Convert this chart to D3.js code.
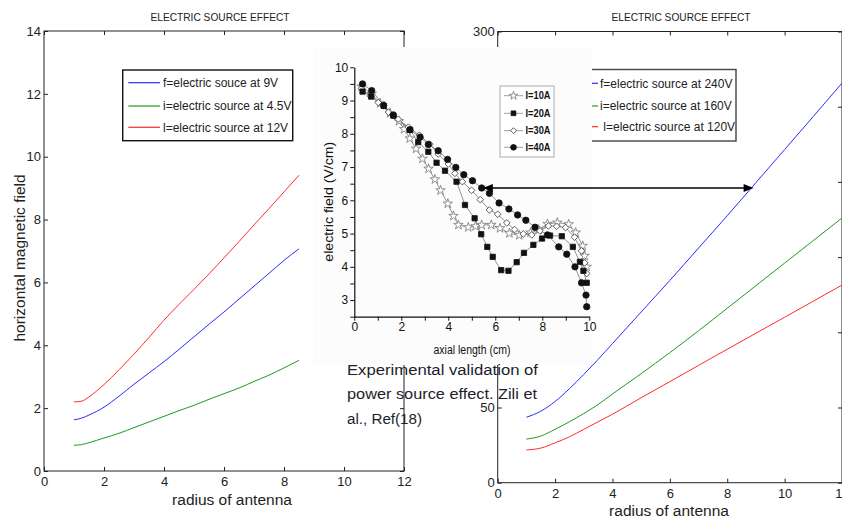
<!DOCTYPE html>
<html><head><meta charset="utf-8">
<script src="https://cdn.jsdelivr.net/npm/d3@7"></script>
<style>
body{margin:0;background:#fff}
svg{display:block}
text{font-family:"Liberation Sans",Arial,sans-serif}
</style>
</head><body>
<svg id="c" width="842" height="518"></svg>
<script>
// ---------- DATA ----------
// Left chart: horizontal magnetic field vs radius of antenna
const leftRadius = [1,1.25,1.5,2,2.5,3,3.5,4,4.5,5,5.5,6,6.5,7,7.5,8,8.5];
const left9V   = [1.63,1.68,1.78,2.03,2.38,2.76,3.12,3.48,3.87,4.27,4.67,5.06,5.47,5.88,6.29,6.7,7.07];
const left45V  = [0.82,0.84,0.9,1.05,1.2,1.38,1.56,1.74,1.92,2.09,2.28,2.46,2.64,2.85,3.05,3.28,3.52];
const left12V  = [2.2,2.22,2.36,2.75,3.22,3.72,4.25,4.8,5.3,5.78,6.27,6.78,7.3,7.83,8.35,8.88,9.41];
const leftXTicks = [0,2,4,6,8,10,12];
const leftYTicks = [0,2,4,6,8,10,12,14];
const leftLegend = ["f=electric souce at 9V","i=electric source at 4.5V","l=electric source at 12V"];

// Right chart
const rightRadius = [1,1.5,2,2.5,3,3.5,4,5,6,7,8,9,10,11,12];
const right240V = [43.5,47.5,54,62.5,72,82,92.5,113.5,134.5,156,177.5,199.5,221.5,243.5,265.7];
const right160V = [29,31,35.5,40.5,46,52,59,72.5,86.5,101,116,131,146,161,176];
const right120V = [21.8,23,26.5,30.5,35.5,40.5,45.5,56.5,67.2,78,88.7,99.4,110,120.7,131.4];
const rightXTicks = [0,2,4,6,8,10,12];
const rightYTicks = [0,50,100,150,200,250,300];
const rightYLabelsShown = [0,50,300]; // others are hidden behind the inset
const rightLegend = ["f=electric source at 240V","i=electric source at 160V"," l=electric source at 120V"];

// Inset: electric field (V/cm) vs axial length (cm)
const i10A = [[0.31,9.42],[0.74,9.2],[1.1,8.92],[1.52,8.62],[1.9,8.38],[2.12,8.14],[2.36,7.86],[2.63,7.55],[2.9,7.25],[3.16,6.95],[3.43,6.63],[3.67,6.3],[3.98,5.9],[4.22,5.53],[4.43,5.26],[4.85,5.19],[5.16,5.22],[5.42,5.26],[5.83,5.26],[6.2,5.16],[6.6,5.01],[7.02,4.95],[7.5,5.03],[7.85,5.12],[8.22,5.29],[8.64,5.33],[9.12,5.28],[9.42,5.03],[9.72,4.63],[9.8,4.33],[9.89,4.0]];
const i20A = [[0.35,9.27],[0.72,9.12],[1.25,8.84],[1.66,8.55],[2.37,8.12],[2.72,7.75],[3.15,7.46],[3.5,7.13],[3.86,6.89],[4.35,6.56],[4.71,5.86],[5.12,5.46],[5.4,4.98],[5.66,4.6],[5.89,4.3],[6.25,3.9],[6.56,3.88],[6.91,4.14],[7.22,4.42],[7.62,4.66],[7.99,4.85],[8.33,4.94],[8.83,4.92],[9.3,4.6],[9.6,4.15],[9.75,3.88],[9.89,3.52]];
const i30A = [[0.31,9.37],[0.67,9.14],[1.02,8.94],[1.45,8.65],[1.87,8.44],[2.3,8.2],[2.77,7.96],[3.22,7.69],[3.57,7.39],[4.0,7.09],[4.28,6.81],[4.6,6.56],[4.99,6.3],[5.36,6.02],[5.75,5.71],[6.1,5.58],[6.49,5.32],[6.82,5.12],[7.19,4.99],[7.55,4.96],[7.9,5.08],[8.26,5.23],[8.61,5.22],[8.99,5.18],[9.37,4.89],[9.67,4.48],[9.8,4.12],[9.89,3.8]];
const i40A = [[0.35,9.5],[0.74,9.3],[1.25,8.85],[1.66,8.56],[2.37,8.12],[2.8,7.9],[3.15,7.68],[3.57,7.49],[3.97,7.23],[4.32,6.99],[4.66,6.77],[5.03,6.59],[5.42,6.37],[5.75,6.21],[6.16,5.92],[6.58,5.74],[6.95,5.56],[7.3,5.4],[7.69,5.19],[8.22,4.96],[8.7,4.6],[9.04,4.38],[9.39,4.0],[9.67,3.52],[9.86,3.15],[9.89,2.8]];
const insetXTicks = [0,1,2,3,4,5,6,7,8,9,10];
const insetXLabels = [0,2,4,6,8,10];
const insetYTicks = [2.5,3,3.5,4,4.5,5,5.5,6,6.5,7,7.5,8,8.5,9,9.5,10];
const insetYLabels = [3,4,5,6,7,8,9,10];
const insetLegend = ["I=10A","I=20A","I=30A","I=40A"];

// arrow annotation: from inset point (axial length, field) to right chart radius
const arrowInset = [5.47, 6.37];
const arrowRightX = 8.92;

const captionLines = ["Experimental validation of","power source effect. Zili et","al., Ref(18)"];

// ---------- DRAW ----------
const svg = d3.select("#c");
const FONT = '"Liberation Sans",Arial,sans-serif';

function boxAxes(g, x, y, xt, yt, fs, pad, yShown) {
  const [x0,x1] = x.range(), [y0,y1] = y.range();
  const st = a => a.attr("font-size", fs).attr("font-family", FONT)
    .call(s => s.select(".domain").remove())
    .call(s => s.selectAll("line").attr("stroke","#222"))
    .call(s => s.selectAll("text").attr("fill","#222"));
  g.append("g").attr("transform",`translate(0,${y0})`)
    .call(d3.axisBottom(x).tickValues(xt).tickSizeInner(-4).tickSizeOuter(0).tickPadding(pad.x)).call(st);
  g.append("g").attr("transform",`translate(0,${y1})`)
    .call(d3.axisTop(x).tickValues(xt).tickSizeInner(-4).tickSizeOuter(0).tickFormat(()=>"")).call(st);
  g.append("g").attr("transform",`translate(${x0},0)`)
    .call(d3.axisLeft(y).tickValues(yt).tickSizeInner(-4).tickSizeOuter(0).tickPadding(pad.y)
      .tickFormat(d => (!yShown || yShown.includes(d)) ? d : "")).call(st);
  g.append("g").attr("transform",`translate(${x1},0)`)
    .call(d3.axisRight(y).tickValues(yt).tickSizeInner(-4).tickSizeOuter(0).tickFormat(()=>"")).call(st);
  g.append("rect").attr("x",x0).attr("y",y1).attr("width",x1-x0).attr("height",y0-y1)
    .attr("fill","none").attr("stroke","#222").attr("stroke-width",1);
}

// ---- Left chart ----
const xL = d3.scaleLinear().domain([0,12]).range([44,404]);
const yL = d3.scaleLinear().domain([0,14]).range([471,31]);
const gL = svg.append("g");
boxAxes(gL, xL, yL, leftXTicks, leftYTicks, 13, {x:6, y:3});
const lineL = d3.line().curve(d3.curveMonotoneX).x((d,i)=>xL(leftRadius[i])).y(d=>yL(d));
[[left9V,"#2b2bff"],[left45V,"#1e9a1e"],[left12V,"#ff2b2b"]].forEach(([s,c])=>{
  gL.append("path").attr("d",lineL(s)).attr("fill","none").attr("stroke",c).attr("stroke-width",1);
});
gL.append("text").attr("x",220).attr("y",21).attr("text-anchor","middle").attr("font-size",10.5)
  .attr("fill","#222").attr("textLength",139).attr("lengthAdjust","spacingAndGlyphs").text("ELECTRIC SOURCE EFFECT");
gL.append("text").attr("x",232).attr("y",505).attr("text-anchor","middle").attr("font-size",15.5)
  .attr("fill","#222").text("radius of antenna");
gL.append("text").attr("transform","translate(25,258) rotate(-90)").attr("text-anchor","middle")
  .attr("font-size",15.5).attr("fill","#222").text("horizontal magnetic field");
// legend
const lgL = gL.append("g");
lgL.append("rect").attr("x",122.7).attr("y",70).attr("width",170).attr("height",70.7)
  .attr("fill","#fff").attr("stroke","#111").attr("stroke-width",1.4);
const legColorsL = ["#2b2bff","#1e9a1e","#ff2b2b"];
const legRowsL = [82.7,106,127.3];
leftLegend.forEach((t,i)=>{
  lgL.append("line").attr("x1",128.3).attr("x2",160).attr("y1",legRowsL[i]).attr("y2",legRowsL[i])
    .attr("stroke",legColorsL[i]).attr("stroke-width",1.2);
  lgL.append("text").attr("x",163).attr("y",legRowsL[i]).attr("dy","0.36em").attr("font-size",12)
    .attr("fill","#222").text(t);
});

// ---- Right chart ----
const xR = d3.scaleLinear().domain([0,12]).range([497.7,842]);
const yR = d3.scaleLinear().domain([0,300]).range([482.7,31.5]);
const gR = svg.append("g");
boxAxes(gR, xR, yR, rightXTicks, rightYTicks, 13, {x:6, y:3}, rightYLabelsShown);
const lineR = d3.line().curve(d3.curveMonotoneX).x((d,i)=>xR(rightRadius[i])).y(d=>yR(d));
[[right240V,"#2b2bff"],[right160V,"#1e9a1e"],[right120V,"#ff2b2b"]].forEach(([s,c])=>{
  gR.append("path").attr("d",lineR(s)).attr("fill","none").attr("stroke",c).attr("stroke-width",1);
});
gR.append("text").attr("x",681).attr("y",21).attr("text-anchor","middle").attr("font-size",10.5)
  .attr("fill","#222").attr("textLength",139).attr("lengthAdjust","spacingAndGlyphs").text("ELECTRIC SOURCE EFFECT");
gR.append("text").attr("x",669).attr("y",515.5).attr("text-anchor","middle").attr("font-size",15.5)
  .attr("fill","#222").text("radius of antenna");
const lgR = gR.append("g");
lgR.append("rect").attr("x",560).attr("y",69.5).attr("width",176).attr("height",71.5)
  .attr("fill","#fff").attr("stroke","#444").attr("stroke-width",1.4);
const legRowsR = [83.3,106,126.7];
rightLegend.forEach((t,i)=>{
  lgR.append("line").attr("x1",575).attr("x2",598).attr("y1",legRowsR[i]).attr("y2",legRowsR[i])
    .attr("stroke",legColorsL[i]).attr("stroke-width",1.2);
  lgR.append("text").attr("x",600).attr("y",legRowsR[i]).attr("dy","0.36em").attr("font-size",12)
    .attr("fill","#222").attr("xml:space","preserve").style("white-space","pre").text(t);
});

// ---- Inset ----
const gI = svg.append("g");
gI.append("rect").attr("x",313).attr("y",47).attr("width",279).attr("height",318).attr("fill","#fcfcfc");
const xI = d3.scaleLinear().domain([0,10]).range([354.3,589.3]);
const yI = d3.scaleLinear().domain([2.5,10]).range([316.7,67.3]);
const stI = a => a.attr("font-size",12).attr("font-family",FONT)
  .call(s=>s.select(".domain").attr("stroke","#111").attr("stroke-width",1.2))
  .call(s=>s.selectAll("line").attr("stroke","#111"))
  .call(s=>s.selectAll("text").attr("fill","#111"));
gI.append("g").attr("transform",`translate(0,${yI.range()[0]})`)
  .call(d3.axisBottom(xI).tickValues(insetXTicks).tickSizeInner(4).tickSizeOuter(0).tickPadding(2)
    .tickFormat(d=>insetXLabels.includes(d)?d:"")).call(stI);
gI.append("g").attr("transform",`translate(${xI.range()[0]},0)`)
  .call(d3.axisLeft(yI).tickValues(insetYTicks).tickSizeInner(4).tickSizeOuter(0).tickPadding(2)
    .tickFormat(d=>insetYLabels.includes(d)?d:"")).call(stI);
gI.append("text").attr("transform","translate(332.5,201.7) rotate(-90)").attr("text-anchor","middle")
  .attr("font-size",13).attr("fill","#111").attr("textLength",120).attr("lengthAdjust","spacingAndGlyphs")
  .text("electric field (V/cm)");
gI.append("text").attr("x",472).attr("y",354).attr("text-anchor","middle").attr("font-size",12)
  .attr("fill","#111").attr("textLength",77).attr("lengthAdjust","spacingAndGlyphs").text("axial length (cm)");

const lineI = d3.line().x(d=>xI(d[0])).y(d=>yI(d[1]));
const markers = [
  {data:i10A, sym:d3.symbolStar, size:28, fill:"#fff", stroke:"#777", rot:0},
  {data:i30A, sym:d3.symbolSquare, size:22, fill:"#fff", stroke:"#444", rot:45},
  {data:i20A, sym:d3.symbolSquare, size:28, fill:"#111", stroke:"#111", rot:0},
  {data:i40A, sym:d3.symbolCircle, size:32, fill:"#111", stroke:"#111", rot:0}
];
markers.forEach(m=>{
  gI.append("path").attr("d",lineI(m.data)).attr("fill","none").attr("stroke","#777").attr("stroke-width",0.8);
});
markers.forEach(m=>{
  const sp = d3.symbol().type(m.sym).size(m.size)();
  gI.append("g").selectAll("path").data(m.data).join("path")
    .attr("d",sp).attr("transform",d=>`translate(${xI(d[0])},${yI(d[1])}) rotate(${m.rot})`)
    .attr("fill",m.fill).attr("stroke",m.stroke).attr("stroke-width",0.8);
});
// inset legend
const lgI = gI.append("g");
lgI.append("rect").attr("x",500).attr("y",86).attr("width",54).attr("height",71)
  .attr("fill","#fff").attr("stroke","#aaa").attr("stroke-width",1);
const legRowsI = [95.7,113.3,130.7,147.3];
const legOrder = [markers[0],markers[2],markers[1],markers[3]];
insetLegend.forEach((t,i)=>{
  const m = legOrder[i];
  lgI.append("line").attr("x1",504).attr("x2",523).attr("y1",legRowsI[i]).attr("y2",legRowsI[i])
    .attr("stroke","#888").attr("stroke-width",0.8);
  lgI.append("path").attr("d",d3.symbol().type(m.sym).size(m.size*0.8)())
    .attr("transform",`translate(513.5,${legRowsI[i]}) rotate(${m.rot})`)
    .attr("fill",m.fill).attr("stroke",m.stroke).attr("stroke-width",0.8);
  lgI.append("text").attr("x",525.5).attr("y",legRowsI[i]).attr("dy","0.36em").attr("font-size",10)
    .attr("font-weight","bold").attr("fill","#111").attr("textLength",25).attr("lengthAdjust","spacingAndGlyphs").text(t);
});

// ---- Arrow ----
const ay = yI(arrowInset[1]);
const ax1 = xI(arrowInset[0]), ax2 = xR(arrowRightX);
const gA = svg.append("g");
gA.append("line").attr("x1",ax1+6).attr("x2",ax2-6).attr("y1",ay).attr("y2",ay)
  .attr("stroke","#000").attr("stroke-width",1.5);
gA.append("path").attr("d",`M${ax1},${ay} L${ax1+10},${ay-4} L${ax1+10},${ay+4} Z`).attr("fill","#000");
gA.append("path").attr("d",`M${ax2},${ay} L${ax2-10},${ay-4} L${ax2-10},${ay+4} Z`).attr("fill","#000");

// ---- Caption ----
const capW = [191,190,75];
captionLines.forEach((t,i)=>{
  svg.append("text").attr("x",347).attr("y",375+i*24.3).attr("font-family","Lato, 'Open Sans', sans-serif")
    .attr("font-size",15.5).attr("fill","#1d1d2b").attr("textLength",capW[i]).attr("lengthAdjust","spacingAndGlyphs").text(t);
});
</script>
</body></html>
